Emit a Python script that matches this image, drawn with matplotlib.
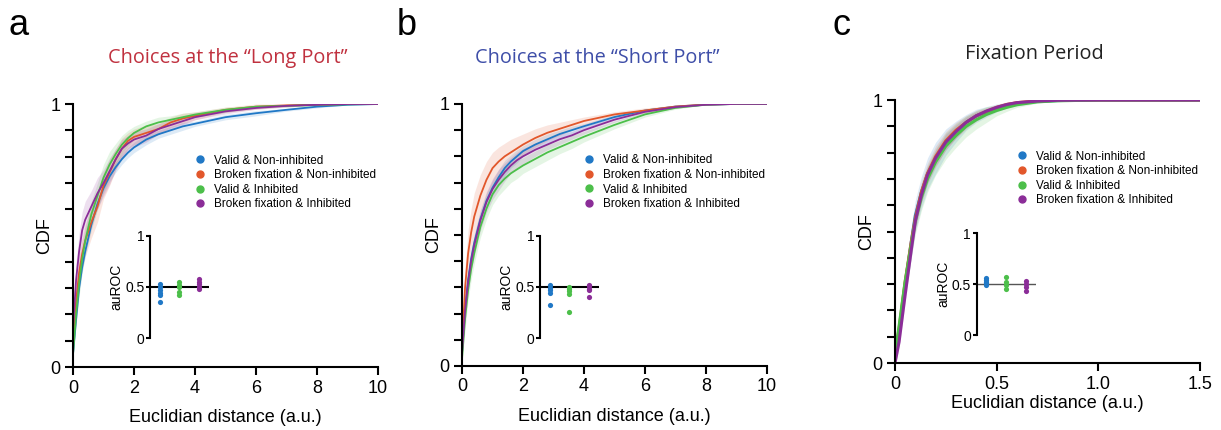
import matplotlib.pyplot as plt

plt.rcParams['font.family'] = ['Liberation Sans', 'DejaVu Sans']

series_names = ["Valid & Non-inhibited", "Broken fixation & Non-inhibited",
                "Valid & Inhibited", "Broken fixation & Inhibited"]
colors = ["#2078c6", "#e2572b", "#4cbf4a", "#8b2d98"]

# panel a: choices at the long port
x_a = [0, 0.1, 0.2, 0.3, 0.4, 0.6, 0.8, 1.0, 1.2, 1.4, 1.6, 1.8, 2.0, 2.4, 2.8,
       3.2, 3.6, 4.0, 5.0, 6.0, 7.0, 8.0, 9.0, 10.0]
cdf_a = [
    [0.05, 0.18, 0.30, 0.38, 0.44, 0.54, 0.62, 0.68, 0.725, 0.76, 0.79, 0.815, 0.835, 0.865,
     0.885, 0.90, 0.915, 0.925, 0.95, 0.965, 0.978, 0.99, 0.997, 1.0],
    [0.08, 0.25, 0.36, 0.43, 0.48, 0.55, 0.61, 0.69, 0.74, 0.79, 0.83, 0.86, 0.875, 0.89,
     0.905, 0.93, 0.945, 0.955, 0.978, 0.99, 0.995, 0.998, 1.0, 1.0],
    [0.05, 0.20, 0.32, 0.41, 0.48, 0.58, 0.65, 0.72, 0.77, 0.81, 0.845, 0.87, 0.89, 0.915,
     0.93, 0.94, 0.95, 0.96, 0.978, 0.99, 0.993, 0.996, 0.999, 1.0],
    [0.15, 0.33, 0.44, 0.52, 0.56, 0.61, 0.66, 0.70, 0.745, 0.79, 0.83, 0.85, 0.865, 0.88,
     0.905, 0.92, 0.935, 0.95, 0.972, 0.985, 0.993, 0.997, 1.0, 1.0],
]
sem_a = [
    [0.01, 0.02, 0.02, 0.02, 0.02, 0.02, 0.02, 0.02, 0.02, 0.02, 0.02, 0.02, 0.02, 0.02,
     0.015, 0.015, 0.015, 0.01, 0.01, 0.01, 0.005, 0.005, 0.0, 0.0],
    [0.03, 0.05, 0.06, 0.06, 0.06, 0.06, 0.06, 0.05, 0.05, 0.04, 0.04, 0.03, 0.03, 0.03,
     0.02, 0.02, 0.02, 0.015, 0.01, 0.01, 0.005, 0.0, 0.0, 0.0],
    [0.02, 0.04, 0.05, 0.05, 0.05, 0.05, 0.05, 0.05, 0.05, 0.04, 0.035, 0.03, 0.025, 0.02,
     0.02, 0.015, 0.015, 0.01, 0.01, 0.005, 0.005, 0.0, 0.0, 0.0],
    [0.05, 0.07, 0.07, 0.07, 0.07, 0.06, 0.06, 0.05, 0.05, 0.04, 0.035, 0.03, 0.03, 0.025,
     0.02, 0.02, 0.015, 0.01, 0.01, 0.005, 0.005, 0.0, 0.0, 0.0],
]

# panel b: choices at the short port
x_b = x_a
cdf_b = [
    [0.05, 0.22, 0.33, 0.41, 0.47, 0.56, 0.63, 0.68, 0.72, 0.755, 0.78, 0.80, 0.82, 0.845,
     0.865, 0.885, 0.90, 0.915, 0.95, 0.975, 0.99, 0.997, 1.0, 1.0],
    [0.07, 0.30, 0.43, 0.51, 0.57, 0.65, 0.71, 0.755, 0.78, 0.80, 0.815, 0.83, 0.845, 0.87,
     0.89, 0.905, 0.92, 0.935, 0.96, 0.975, 0.99, 0.998, 1.0, 1.0],
    [0.03, 0.18, 0.29, 0.37, 0.43, 0.53, 0.60, 0.655, 0.69, 0.715, 0.735, 0.75, 0.765, 0.79,
     0.815, 0.835, 0.855, 0.875, 0.92, 0.96, 0.985, 0.997, 1.0, 1.0],
    [0.05, 0.21, 0.32, 0.40, 0.46, 0.555, 0.625, 0.675, 0.71, 0.74, 0.765, 0.785, 0.80,
     0.825, 0.845, 0.865, 0.88, 0.90, 0.94, 0.97, 0.988, 0.997, 1.0, 1.0],
]
sem_b = [
    [0.01, 0.03, 0.03, 0.03, 0.03, 0.03, 0.03, 0.03, 0.03, 0.03, 0.025, 0.025, 0.02, 0.02,
     0.02, 0.015, 0.015, 0.01, 0.01, 0.005, 0.005, 0.0, 0.0, 0.0],
    [0.03, 0.08, 0.09, 0.09, 0.09, 0.08, 0.07, 0.06, 0.055, 0.05, 0.05, 0.045, 0.04, 0.035,
     0.03, 0.025, 0.02, 0.015, 0.01, 0.01, 0.005, 0.0, 0.0, 0.0],
    [0.02, 0.04, 0.04, 0.04, 0.04, 0.04, 0.04, 0.04, 0.04, 0.04, 0.035, 0.035, 0.03, 0.03,
     0.03, 0.025, 0.025, 0.02, 0.015, 0.01, 0.005, 0.0, 0.0, 0.0],
    [0.02, 0.04, 0.04, 0.04, 0.04, 0.04, 0.04, 0.04, 0.04, 0.035, 0.03, 0.03, 0.03, 0.025,
     0.02, 0.02, 0.015, 0.015, 0.01, 0.005, 0.005, 0.0, 0.0, 0.0],
]

# panel c: fixation period
x_c = [0, 0.02, 0.05, 0.08, 0.1, 0.13, 0.16, 0.2, 0.25, 0.3, 0.35, 0.4, 0.45, 0.5,
       0.55, 0.6, 0.7, 0.8, 1.0, 1.2, 1.5]
cdf_c = [
    [0.02, 0.12, 0.30, 0.46, 0.56, 0.65, 0.72, 0.78, 0.84, 0.88, 0.915, 0.94, 0.955, 0.97,
     0.98, 0.988, 0.995, 0.998, 1.0, 1.0, 1.0],
    [0.03, 0.13, 0.31, 0.46, 0.55, 0.65, 0.72, 0.785, 0.845, 0.885, 0.915, 0.94, 0.957,
     0.972, 0.983, 0.99, 0.997, 0.999, 1.0, 1.0, 1.0],
    [0.03, 0.14, 0.31, 0.45, 0.54, 0.63, 0.70, 0.765, 0.825, 0.865, 0.90, 0.925, 0.945,
     0.96, 0.972, 0.982, 0.993, 0.997, 1.0, 1.0, 1.0],
    [0.0, 0.08, 0.26, 0.43, 0.54, 0.64, 0.715, 0.78, 0.84, 0.88, 0.915, 0.94, 0.958, 0.972,
     0.983, 0.99, 0.996, 0.999, 1.0, 1.0, 1.0],
]
sem_c = [
    [0.01, 0.03, 0.05, 0.06, 0.06, 0.06, 0.06, 0.06, 0.05, 0.04, 0.03, 0.025, 0.02, 0.015,
     0.01, 0.01, 0.005, 0.0, 0.0, 0.0, 0.0],
    [0.01, 0.03, 0.04, 0.04, 0.04, 0.04, 0.04, 0.04, 0.035, 0.03, 0.025, 0.02, 0.015, 0.01,
     0.01, 0.005, 0.005, 0.0, 0.0, 0.0, 0.0],
    [0.01, 0.03, 0.05, 0.05, 0.05, 0.05, 0.05, 0.05, 0.05, 0.045, 0.04, 0.035, 0.03, 0.02,
     0.015, 0.01, 0.005, 0.0, 0.0, 0.0, 0.0],
    [0.01, 0.02, 0.03, 0.03, 0.03, 0.03, 0.03, 0.03, 0.03, 0.025, 0.02, 0.015, 0.01, 0.01,
     0.005, 0.005, 0.0, 0.0, 0.0, 0.0, 0.0],
]

# auROC insets (blue, green, purple)
auroc_groups = [0.5, 1.5, 2.5]
auroc_colors = [colors[0], colors[2], colors[3]]
auroc_a = [[0.526, 0.5, 0.474, 0.444, 0.425, 0.353],
           [0.55, 0.523, 0.5, 0.45, 0.425],
           [0.575, 0.55, 0.526, 0.5, 0.484]]
auroc_b = [[0.516, 0.49, 0.467, 0.444, 0.32],
           [0.5, 0.477, 0.457, 0.435, 0.26],
           [0.523, 0.507, 0.484, 0.467, 0.40]]
auroc_c = [[0.556, 0.539, 0.523, 0.507, 0.49],
           [0.566, 0.52, 0.487, 0.45],
           [0.533, 0.5, 0.467, 0.43]]

W, H = 1221, 430
panels = [
    dict(x=x_a, cdf=cdf_a, sem=sem_a, auroc=auroc_a, letter="a",
         title="Choices at the \u201cLong Port\u201d", tcolor="#c0313f", tx=228, ty=58,
         xticks=[0, 2, 4, 6, 8, 10], xlim=10, xlabels=["0", "2", "4", "6", "8", "10"],
         pos=[0.0598, 0.1465, 0.2498, 0.6116], ins=[0.1229, 0.2133, 0.0479, 0.2386],
         lw=1.3, rline="black", lx=19, xpad=9),
    dict(x=x_b, cdf=cdf_b, sem=sem_b, auroc=auroc_b, letter="b",
         title="Choices at the \u201cShort Port\u201d", tcolor="#3e4ea8", tx=597, ty=58,
         xticks=[0, 2, 4, 6, 8, 10], xlim=10, xlabels=["0", "2", "4", "6", "8", "10"],
         pos=[0.3784, 0.149, 0.2498, 0.6093], ins=[0.4423, 0.2133, 0.0479, 0.2386],
         lw=1.3, rline="black", lx=407, xpad=9),
    dict(x=x_c, cdf=cdf_c, sem=sem_c, auroc=auroc_c, letter="c",
         title="Fixation Period", tcolor="#222222", tx=1034, ty=54,
         xticks=[0, 0.5, 1.0, 1.5], xlim=1.5, xlabels=["0", "0.5", "1.0", "1.5"],
         pos=[0.733, 0.1558, 0.2498, 0.6116], ins=[0.7998, 0.2209, 0.0484, 0.2372],
         lw=2.2, rline="#555555", lx=842, xpad=2),
]

fig = plt.figure(figsize=(W / 100, H / 100), dpi=100)

for p in panels:
    ax = fig.add_axes(p["pos"])
    for i in range(4):
        lo = [c - s for c, s in zip(p["cdf"][i], p["sem"][i])]
        hi = [min(c + s, 1.0) for c, s in zip(p["cdf"][i], p["sem"][i])]
        ax.fill_between(p["x"], lo, hi, color=colors[i], alpha=0.15, lw=0)
    for i in range(4):
        ax.plot(p["x"], p["cdf"][i], color=colors[i], lw=p["lw"])
    ax.set_xlim(0, p["xlim"])
    ax.set_ylim(0, 1)
    ax.set_xticks(p["xticks"])
    ax.set_xticklabels(p["xlabels"])
    ax.set_yticks([i / 10 for i in range(11)])
    ax.set_yticklabels(["0"] + [""] * 9 + ["1"])
    for s in ["top", "right"]:
        ax.spines[s].set_visible(False)
    for s in ["left", "bottom"]:
        ax.spines[s].set_linewidth(1.5)
    ax.tick_params(width=1.5, length=6, labelsize=13, pad=3)
    ax.set_xlabel("Euclidian distance (a.u.)", fontsize=13, labelpad=p["xpad"])
    ax.set_ylabel("CDF", fontsize=13, labelpad=-2)

    handles = [plt.Line2D([], [], ls="", marker="o", ms=5, color=c) for c in colors]
    ax.legend(handles, series_names, loc="upper left", bbox_to_anchor=(0.38, 0.83),
              frameon=False, fontsize=8.5, handlelength=0.8, handletextpad=0.8,
              labelspacing=0.22, borderpad=0)

    fig.text(p["tx"] / W, 1 - p["ty"] / H, p["title"],
             color=p["tcolor"], fontsize=14.3, family=["Open Sans", "DejaVu Sans"],
             ha="center", va="center")
    fig.text(p["lx"] / W, 1 - 35 / H, p["letter"], fontsize=26, ha="center",
             va="baseline")

    ins = fig.add_axes(p["ins"])
    ins.axhline(0.5, color=p["rline"], lw=1.5 if p["rline"] == "black" else 1.0, zorder=1)
    for g, vals, c in zip(auroc_groups, p["auroc"], auroc_colors):
        ins.scatter([g] * len(vals), vals, s=14, color=c, zorder=3, lw=0)
    ins.set_xlim(0, 3)
    ins.set_ylim(0, 1)
    ins.set_yticks([0, 0.5, 1])
    ins.set_yticklabels(["0", "0.5", "1"])
    ins.set_xticks([])
    for s in ["top", "right", "bottom"]:
        ins.spines[s].set_visible(False)
    ins.spines["left"].set_linewidth(1.5)
    ins.tick_params(width=1.5, length=3, labelsize=10, pad=1)
    ins.set_ylabel("auROC", fontsize=10, labelpad=1)
    ins.patch.set_alpha(0)

fig.savefig("out.png", dpi=100)
